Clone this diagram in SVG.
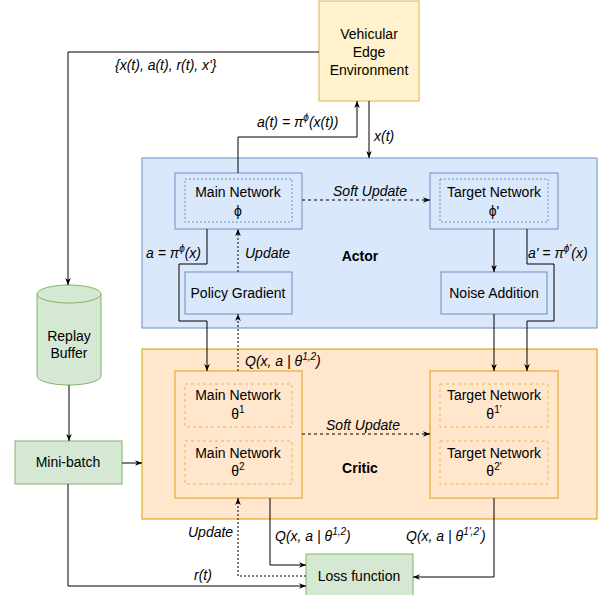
<svg xmlns="http://www.w3.org/2000/svg" width="605" height="595" viewBox="0 0 605 595">
<style>
text{font-family:"Liberation Sans",Arial,sans-serif;font-size:14px;fill:#000}
.c{text-anchor:middle}
.i{font-style:italic;font-size:14px}
.b{font-weight:bold}
.ln{fill:none;stroke:#000;stroke-width:1}
.dot{fill:none;stroke:#000;stroke-width:1;stroke-dasharray:2 2}
.dash{fill:none;stroke:#000;stroke-width:1;stroke-dasharray:3 3}
.blue{fill:#dae8fc;stroke:#6c8ebf}
.orange{fill:#ffe6cc;stroke:#d79b00}
.oin{fill:#ffe6cc;stroke:#e8b84c;stroke-width:1.5}
.odash{fill:none;stroke:#e8b84c;stroke-dasharray:3 3}
.bdash{fill:none;stroke:#6c8ebf;stroke-dasharray:2 2}
.green{fill:#d5e8d4;stroke:#82b366}
.yellow{fill:#fff2cc;stroke:#d6b656}
</style>
<defs>
<marker id="ah" viewBox="0 0 10 10" refX="10" refY="5" markerWidth="7" markerHeight="7" orient="auto" markerUnits="userSpaceOnUse">
<path d="M0,1 L10,5 L0,9 L3,5 Z" fill="#000"/>
</marker>
</defs>

<g id="actor-container">
<rect class="blue" x="142" y="158" width="455" height="170"/>
<text class="b c" x="360" y="261">Actor</text>
</g>
<g id="critic-container">
<rect class="orange" x="142" y="349" width="455" height="170"/>
<text class="b c" x="360" y="473">Critic</text>
</g>

<g id="env">
<rect class="yellow" x="319" y="1" width="100" height="100"/>
<text class="c" x="369" y="39">Vehicular</text>
<text class="c" x="369" y="57">Edge</text>
<text class="c" x="369" y="75">Environment</text>
</g>

<g id="actor-main">
<rect class="blue" x="175" y="173" width="127" height="56"/>
<rect class="bdash" x="185" y="179" width="107" height="43"/>
<text class="c" x="238" y="197">Main Network</text>
<text class="c" x="238" y="216">ϕ</text>
</g>
<g id="actor-target">
<rect class="blue" x="430" y="173" width="128" height="56"/>
<rect class="bdash" x="440" y="179" width="108" height="43"/>
<text class="c" x="494" y="197">Target Network</text>
<text class="c" x="494" y="216">ϕ'</text>
</g>
<g id="policy-gradient">
<rect class="blue" x="185" y="272" width="107" height="42"/>
<text class="c" x="238" y="298">Policy Gradient</text>
</g>
<g id="noise-addition">
<rect class="blue" x="441" y="272" width="106" height="42"/>
<text class="c" x="494" y="298">Noise Addition</text>
</g>

<g id="critic-main">
<rect class="oin" x="175" y="371" width="127" height="127"/>
<rect class="odash" x="185" y="384" width="107" height="43"/>
<text class="c" x="238" y="400">Main Network</text>
<text class="c" x="238" y="419">θ<tspan font-size="10" dy="-6">1</tspan></text>
<rect class="odash" x="185" y="441" width="107" height="43"/>
<text class="c" x="238" y="458">Main Network</text>
<text class="c" x="238" y="476">θ<tspan font-size="10" dy="-6">2</tspan></text>
</g>
<g id="critic-target">
<rect class="oin" x="430" y="371" width="128" height="127"/>
<rect class="odash" x="440" y="384" width="108" height="43"/>
<text class="c" x="494" y="400">Target Network</text>
<text class="c" x="494" y="419">θ<tspan font-size="10" dy="-6">1'</tspan></text>
<rect class="odash" x="440" y="441" width="108" height="43"/>
<text class="c" x="494" y="458">Target Network</text>
<text class="c" x="494" y="476">θ<tspan font-size="10" dy="-6">2'</tspan></text>
</g>

<g id="replay-buffer">
<path class="green" d="M37,294 A32,9 0 0 1 101,294 L101,376 A32,9 0 0 1 37,376 Z"/>
<path fill="none" stroke="#82b366" d="M37,294 A32,9 0 0 0 101,294"/>
<text class="c" x="69" y="341">Replay</text>
<text class="c" x="69" y="358">Buffer</text>
</g>
<g id="mini-batch">
<rect class="green" x="15" y="441" width="107" height="43"/>
<text class="c" x="68" y="467">Mini-batch</text>
</g>
<g id="loss-function">
<rect class="green" x="306" y="554" width="107" height="45"/>
<text class="c" x="359" y="581">Loss function</text>
</g>

<g id="connectors">
<path class="ln" d="M319,52 H68 V285" marker-end="url(#ah)"/>
<path class="ln" d="M238,173 V137 H357 V101" marker-end="url(#ah)"/>
<path class="ln" d="M369,101 V158" marker-end="url(#ah)"/>
<path class="dash" d="M302,200 H430" marker-end="url(#ah)"/>
<path class="dot" d="M238,272 V229" marker-end="url(#ah)"/>
<path class="dot" d="M238,371 V314" marker-end="url(#ah)"/>
<path class="ln" d="M207,229 V264 H179 V321 H207 V371" marker-end="url(#ah)"/>
<path class="ln" d="M494,229 V272" marker-end="url(#ah)"/>
<path class="ln" d="M494,314 V371" marker-end="url(#ah)"/>
<path class="ln" d="M527,229 V264 H554 V321 H527 V371" marker-end="url(#ah)"/>
<path class="dash" d="M302,434 H430" marker-end="url(#ah)"/>
<path class="ln" d="M69,385 V441" marker-end="url(#ah)"/>
<path class="ln" d="M122,463 H142" marker-end="url(#ah)"/>
<path class="ln" d="M68,484 V586 H306" marker-end="url(#ah)"/>
<path class="ln" d="M270,498 V565 H306" marker-end="url(#ah)"/>
<path class="dot" d="M306,576 H238 V498" marker-end="url(#ah)"/>
<path class="ln" d="M494,498 V577 H413" marker-end="url(#ah)"/>

<text class="i" x="115" y="70">{x(t), a(t), r(t), x'}</text>
<text class="i" x="257" y="127">a(t) = π<tspan font-size="10" dy="-6">ϕ</tspan><tspan dy="6">(x(t))</tspan></text>
<text class="i" x="374" y="141">x(t)</text>
<text class="i c" x="370" y="196">Soft Update</text>
<text class="i" x="146" y="258">a = π<tspan font-size="10" dy="-6">ϕ</tspan><tspan dy="6">(x)</tspan></text>
<text class="i" x="245" y="258">Update</text>
<text class="i" x="528" y="258">a' = π<tspan font-size="10" dy="-6">ϕ'</tspan><tspan dy="6">(x)</tspan></text>
<text class="i" x="245" y="366">Q(x, a | θ<tspan font-size="10" dy="-6">1,2</tspan><tspan dy="6">)</tspan></text>
<text class="i c" x="363" y="430">Soft Update</text>
<text class="i" x="188" y="537">Update</text>
<text class="i" x="275" y="541">Q(x, a | θ<tspan font-size="10" dy="-6">1,2</tspan><tspan dy="6">)</tspan></text>
<text class="i" x="406" y="541">Q(x, a | θ<tspan font-size="10" dy="-6">1',2'</tspan><tspan dy="6">)</tspan></text>
<text class="i" x="194" y="580">r(t)</text>
</g>
</svg>
